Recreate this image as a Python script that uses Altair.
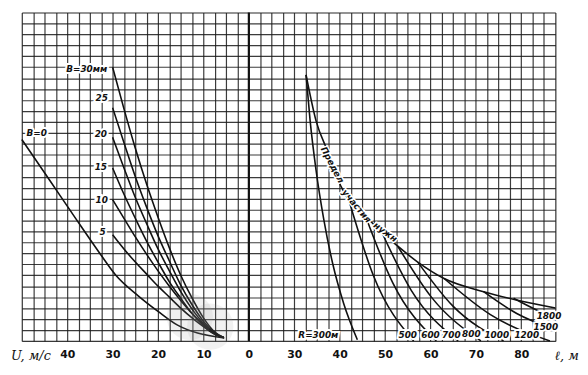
import altair as alt
import pandas as pd

# ---- left family: U (m/s) vs height, labelled by B (mm)
U_pts = [30, 27.5, 25, 22.5, 20, 17.5, 15, 12.5, 10, 7.5, 5.5]
B30 = [25.0, 21.2, 17.6, 14.3, 11.3, 8.5, 6.0, 3.9, 2.1, 0.8, 0.3]
B25 = [21.3, 18.1, 15.0, 12.2, 9.6, 7.3, 5.1, 3.3, 1.8, 0.74, 0.3]
B20 = [18.6, 15.8, 13.1, 10.7, 8.4, 6.4, 4.5, 2.9, 1.6, 0.68, 0.3]
B15 = [15.8, 13.4, 11.2, 9.1, 7.2, 5.4, 3.9, 2.5, 1.4, 0.62, 0.3]
B10 = [12.9, 11.2, 9.5, 7.9, 6.4, 5.0, 3.7, 2.5, 1.5, 0.65, 0.3]
B5 = [9.7, 8.4, 7.2, 6.1, 5.0, 4.0, 3.0, 2.1, 1.3, 0.6, 0.3]
B0_U = [50, 43.9, 38, 33, 29.3, 24.3, 20, 15.7, 11.3, 5.4]
B0_y = [18.4, 14.7, 11.1, 8.1, 6.0, 4.1, 2.7, 1.44, 0.72, 0.27]

# ---- right family: l (m) vs height, labelled by R (m)
env_e = [32.6, 34.8, 37.6, 40.2, 42.0, 45.7, 49.3, 52.8, 57.2, 63.0, 71.7, 80.4, 87.5]
env_y = [24.3, 20.1, 17.1, 14.2, 12.9, 11.4, 9.9, 8.65, 7.2, 5.7, 4.5, 3.6, 3.0]
R300_e = [32.6, 33.5, 34.8, 36.5, 38.5, 40.9, 43.9]
R300_y = [24.3, 20.1, 15.6, 11.1, 7.0, 3.4, 0.1]
R500_e = [42.0, 47.4, 56.3];  R500_y = [12.9, 6.0, 0.0]
R600_e = [45.7, 51.7, 61.3];  R600_y = [11.4, 5.3, 0.0]
R700_e = [49.3, 55.8, 66.1];  R700_y = [9.9, 4.6, 0.0]
R800_e = [52.8, 60.2, 71.1];  R800_y = [8.65, 4.0, 0.0]
R1000_e = [57.2, 64.9, 76.1]; R1000_y = [7.2, 3.2, 0.0]
R1200_e = [63.0, 73.2, 86.3]; R1200_y = [5.7, 2.4, 0.0]
R1500_e = [71.7, 79.0, 87.5]; R1500_y = [4.5, 2.5, 1.0]
R1800_e = [78.3, 83.0, 87.5]; R1800_y = [3.9, 2.9, 2.1]

# ---- labels
left_lab_text = ["B=30мм", "25", "20", "15", "10", "5", "B=0"]
left_lab_U = [35.7, 32.4, 32.6, 32.6, 32.4, 32.2, 46.7]
left_lab_y = [24.8, 22.2, 18.9, 15.9, 12.9, 9.9, 19.0]
right_lab_text = ["R=300м", "500", "600", "700", "800", "1000", "1200", "1500", "1800"]
right_lab_e = [35.3, 55.0, 60.0, 64.6, 69.0, 74.6, 81.2, 85.4, 86.1]
right_lab_y = [0.55, 0.55, 0.55, 0.55, 0.6, 0.55, 0.5, 1.25, 2.3]
env_text = ["Предел", "участия", "нужн"]
env_text_e = [38.0, 43.4, 49.8]
env_text_y = [16.0, 12.2, 9.8]
env_text_angle = [62, 50, 36]

rows = []
def add(name, side, xs, ys):
    for i, (a, b) in enumerate(zip(xs, ys)):
        rows.append({"series": name, "side": side, "val": a, "y": b, "ord": i})

for name, ys in [("B30", B30), ("B25", B25), ("B20", B20), ("B15", B15), ("B10", B10), ("B5", B5)]:
    add(name, "L", U_pts, ys)
add("B0", "L", B0_U, B0_y)
add("env", "R", env_e, env_y)
add("R300", "R", R300_e, R300_y)
for name, xs, ys in [("R500", R500_e, R500_y), ("R600", R600_e, R600_y), ("R700", R700_e, R700_y),
                     ("R800", R800_e, R800_y), ("R1000", R1000_e, R1000_y), ("R1200", R1200_e, R1200_y),
                     ("R1500", R1500_e, R1500_y), ("R1800", R1800_e, R1800_y)]:
    add(name, "R", xs, ys)
curves = pd.DataFrame(rows)

labels = pd.DataFrame(
    [{"t": t, "side": "L", "val": a, "y": b} for t, a, b in zip(left_lab_text, left_lab_U, left_lab_y)]
    + [{"t": t, "side": "R", "val": a, "y": b} for t, a, b in zip(right_lab_text, right_lab_e, right_lab_y)]
)
env_lab = pd.DataFrame({"t": env_text, "side": "R", "val": env_text_e, "y": env_text_y, "ang": env_text_angle})

pos_expr = "datum.side == 'L' ? -datum.val : datum.val - 20"
xscale = alt.Scale(domain=[-50, 67.5], nice=False, zero=False)
yscale = alt.Scale(domain=[0, 30], nice=False)
grid_x = [-50 + 2.5 * i for i in range(48)]
grid_y = list(range(0, 31))

xaxis = alt.Axis(values=grid_x, title=None, grid=True, ticks=False, domain=False,
                 gridColor="#1a1a1a", gridWidth=1.2, gridOpacity=0.85,
                 labelExpr="indexof([-40,-30,-20,-10,0,10,20,30,40,50,60], datum.value) >= 0 ? (datum.value <= 0 ? format(-datum.value, 'd') : format(datum.value + 20, 'd')) : ''",
                 labelPadding=8, labelFontSize=11, labelFont="DejaVu Sans",
                 labelColor="#111", labelFontWeight="bold", labelFlush=False)
yaxis = alt.Axis(values=grid_y, title=None, labels=False, ticks=False, domain=False, grid=True,
                 gridColor="#1a1a1a", gridWidth=1.2, gridOpacity=0.85)
bx = alt.X("pos:Q", scale=xscale, axis=xaxis)
by = alt.Y("y:Q", scale=yscale, axis=yaxis)

lines = alt.Chart(curves).transform_calculate(pos=pos_expr).mark_line(
    color="#111", strokeWidth=1.6, interpolate="monotone"
).encode(x=bx, y=by, detail="series:N", order="ord:Q")

zero_line = alt.Chart(pd.DataFrame({"pos": [0]})).mark_rule(color="#111", strokeWidth=2.2).encode(x=bx)

shade = alt.Chart(pd.DataFrame({"side": ["L", "L"], "val": [8.5, 13.0], "y": [1.3, 2.2]})).transform_calculate(
    pos=pos_expr).mark_point(filled=True, color="#999", opacity=0.14, size=2200, shape="circle").encode(
    x=bx, y=by)

txt_style = dict(font="DejaVu Sans", fontSize=9, fontStyle="italic", fontWeight="bold")
halo = alt.Chart(labels).transform_calculate(pos=pos_expr).mark_text(
    color="white", stroke="white", strokeWidth=4, **txt_style
).encode(x=bx, y=by, text="t:N")
txt = alt.Chart(labels).transform_calculate(pos=pos_expr).mark_text(
    color="#111", **txt_style
).encode(x=bx, y=by, text="t:N")

env_halo = alt.Chart(env_lab).transform_calculate(pos=pos_expr).mark_text(
    color="white", stroke="white", strokeWidth=3, dy=-2, **txt_style
).encode(x=bx, y=by, text="t:N", angle=alt.Angle("ang:Q", scale=None))
env_txt = alt.Chart(env_lab).transform_calculate(pos=pos_expr).mark_text(
    color="#111", dy=-2, **txt_style
).encode(x=bx, y=by, text="t:N", angle=alt.Angle("ang:Q", scale=None))

axis_titles = pd.DataFrame({"t": ["U, м/с", "ℓ, м"], "side": ["L", "R"], "val": [48.0, 90.0], "y": [-1.35, -1.35]})
atxt = alt.Chart(axis_titles).transform_calculate(pos=pos_expr).mark_text(
    font="DejaVu Serif", fontSize=13, fontStyle="italic", color="#111"
).encode(x=bx, y=by, text="t:N")

chart = alt.layer(lines, shade, zero_line, halo, txt, env_halo, env_txt, atxt).properties(
    width=541, height=333, autosize="none",
    padding={"left": 14, "top": 2, "right": 25, "bottom": 32}
).configure_view(stroke="#111", strokeWidth=2.2).configure(background="white")

chart.save("out.html", embed_options={"renderer": "svg", "actions": False})
